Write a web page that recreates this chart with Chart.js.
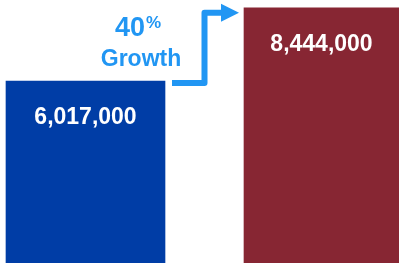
<!DOCTYPE html>
<html>
<head>
<meta charset="utf-8">
<script src="https://cdn.jsdelivr.net/npm/chart.js@4"></script>
<style>
  html, body { margin: 0; padding: 0; background: #fff; }
  #wrap { position: relative; width: 399px; height: 263px; overflow: hidden; }
  .growth { position: absolute; left: 95px; width: 92px; text-align: center;
            color: #2196f3; font-family: "Liberation Sans", Arial, sans-serif; font-weight: bold; }
  #pct { top: 14px; left: 92px; font-size: 27px; line-height: 26px; }
  #pct span { font-size: 17px; position: relative; top: -8px; margin-left: 1px; }
  #word { top: 47px; font-size: 23px; line-height: 23px; }
</style>
</head>
<body>
<div id="wrap">
  <canvas id="chart"></canvas>
  <div id="pct" class="growth"></div>
  <div id="word" class="growth"></div>
</div>
<script>
// data
const categories = ['Previous', 'Current'];
const values = [6017000, 8444000];
const growthPct = '40';
const growthWord = 'Growth';

const barColors = ['#003da6', '#872633'];
const barWidths = [159, 155];
const arrowColor = '#2196f3';

document.getElementById('pct').innerHTML = growthPct + '<span>%</span>';
document.getElementById('word').textContent = growthWord;

// value labels inside the bars + the step arrow between them
const barLabels = {
  id: 'barLabels',
  afterDatasetsDraw(chart) {
    const ctx = chart.ctx;
    const bars = chart.data.datasets.map((ds, i) => chart.getDatasetMeta(i).data[0]);

    ctx.save();
    ctx.fillStyle = '#fff';
    ctx.font = 'bold 23px "Liberation Sans", Arial, sans-serif';
    ctx.textAlign = 'center';
    ctx.textBaseline = 'middle';
    bars.forEach((bar, i) => {
      ctx.fillText(values[i].toLocaleString('en-US'), bar.x, bar.y + 37);
    });

    // arrow
    const a = bars[0], b = bars[1];
    const x0 = a.x + a.width / 2 + 7;
    const y0 = a.y + 2;
    const tipX = b.x - b.width / 2 - 5;
    const y1 = b.y + 5;
    const midX = (a.x + a.width / 2 + b.x - b.width / 2) / 2;
    const headLen = 18;
    ctx.strokeStyle = arrowColor;
    ctx.fillStyle = arrowColor;
    ctx.lineWidth = 6;
    ctx.lineJoin = 'round';
    ctx.beginPath();
    ctx.moveTo(x0, y0);
    ctx.lineTo(midX, y0);
    ctx.lineTo(midX, y1);
    ctx.lineTo(tipX - headLen + 1, y1);
    ctx.stroke();
    ctx.beginPath();
    ctx.moveTo(tipX, y1);
    ctx.lineTo(tipX - headLen, y1 - 9);
    ctx.lineTo(tipX - headLen, y1 + 9);
    ctx.closePath();
    ctx.fill();
    ctx.restore();
  }
};

new Chart(document.getElementById('chart'), {
  type: 'bar',
  data: {
    datasets: values.map((v, i) => ({
      label: categories[i],
      data: [{ x: i, y: v }],
      backgroundColor: barColors[i],
      barThickness: barWidths[i],
      grouped: false,
      borderWidth: 0
    }))
  },
  options: {
    responsive: true,
    maintainAspectRatio: false,
    animation: false,
    layout: { padding: 0 },
    plugins: {
      legend: { display: false },
      tooltip: { enabled: false }
    },
    scales: {
      x: { type: 'linear', display: false, offset: false, min: -0.3623, max: 1.3284 },
      y: { display: false, min: 0, max: 8700000 }
    }
  },
  plugins: [barLabels]
});
</script>
</body>
</html>
